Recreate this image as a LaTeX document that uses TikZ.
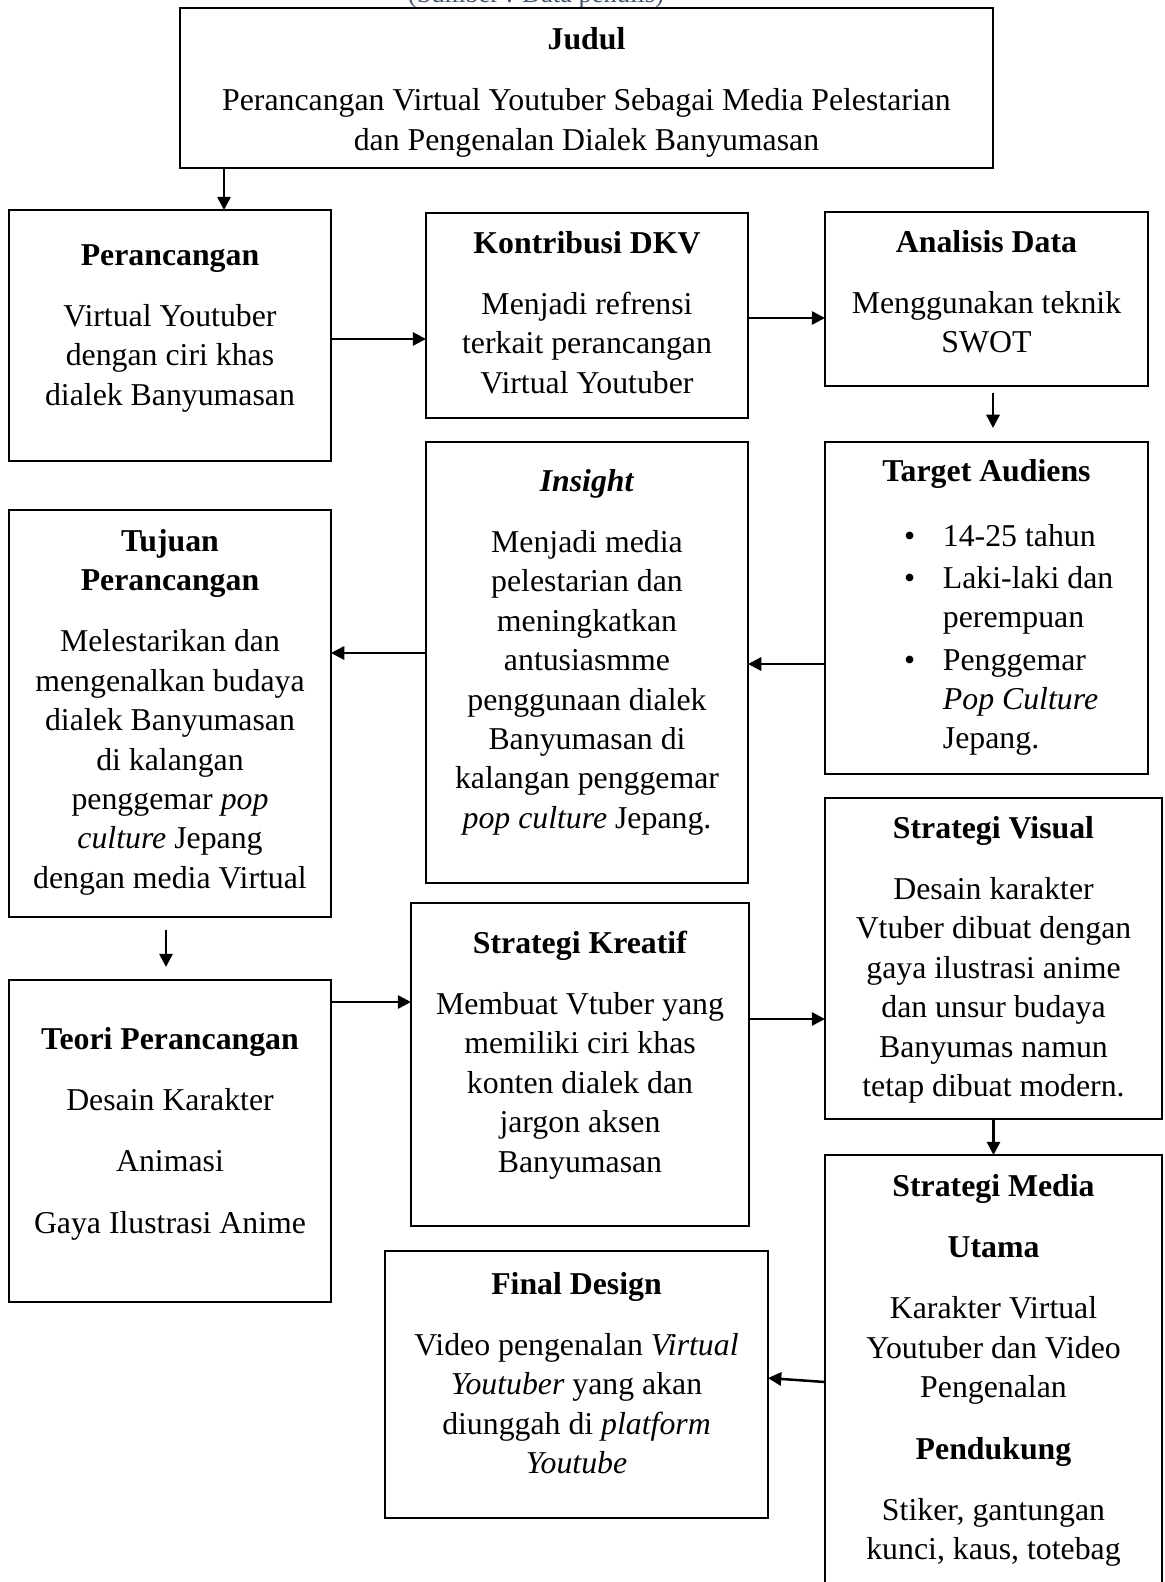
\documentclass[tikz,border=0pt]{standalone}
\usepackage{fontspec}
\setmainfont{Liberation Serif}
\usetikzlibrary{arrows.meta}
\definecolor{sumber}{HTML}{44546A}

\begin{document}
\begin{tikzpicture}[x=0.3774pt,y=-0.3774pt,
        every node/.style={font=\fontsize{12}{14.87}\selectfont,inner sep=0,outer sep=0},
        box/.style={draw,line width=1pt},
        txt/.style={align=flush center,anchor=base,text width=#1},
        txt/.default=118pt,
        arr/.style={line width=0.95pt,-{Triangle[length=5pt,width=5pt]}}]
        \useasboundingbox (0,0) rectangle (1165,1582);
        \node [font=\fontsize{10}{12}\selectfont,text=sumber,anchor=base] (sumber) at (536,2) {(Sumber : Data penulis)};
        \foreach \n/\xa/\ya/\xb/\yb in {judul/180/8/993/168,perancangan/9/210/331/461,kontribusi/426/213/748/418,%
            analisis/825/212/1148/386,target/825/442/1148/774,insight/426/442/748/883,tujuan/9/510/331/917,%
            teori/9/980/331/1302,kreatif/411/903/749/1226,visual/825/798/1162/1119,media/825/1155/1162/1640,%
            final/385/1251/768/1518} {
            \node [box,minimum width=(\xb-\xa)*0.3774pt,minimum height=(\yb-\ya)*0.3774pt] (\n) at ({(\xa+\xb)/2},{(\ya+\yb)/2}) {}; % kotak
        }
        % isi kotak
        \node [txt=300pt] (judul-txt) at (586.5,49) {\textbf{Judul}\\[8.5pt] Perancangan Virtual Youtuber Sebagai Media Pelestarian\\ dan Pengenalan Dialek Banyumasan};
        \node [txt] (perancangan-txt) at (170,265) {\textbf{Perancangan}\\[8.3pt] Virtual Youtuber\\ dengan ciri khas\\ dialek Banyumasan};
        \node [txt] (kontribusi-txt) at (587,253) {\textbf{Kontribusi DKV}\\[8.3pt] Menjadi refrensi\\ terkait perancangan\\ Virtual Youtuber};
        \node [txt] (analisis-txt) at (986.5,252) {\textbf{Analisis Data}\\[8.3pt] Menggunakan teknik\\ SWOT};
        \node [txt] (target-txt) at (986.5,481) {\textbf{Target Audiens}};
        \node [align=flush left,anchor=base west,text width=100pt] (target-list) at (904,546) {\makebox[14.7pt][l]{•}14-25 tahun\\[1.1pt]
            \makebox[14.7pt][l]{•}Laki-laki dan\\ \hspace*{14.7pt}perempuan\\[1.1pt]
            \makebox[14.7pt][l]{•}Penggemar\\ \hspace*{14.7pt}\textit{Pop Culture}\\ \hspace*{14.7pt}Jepang.};
        \node [txt] (insight-txt) at (587,491) {\textbf{\textit{Insight}}\\[8.3pt] Menjadi media\\ pelestarian dan\\ meningkatkan\\ antusiasmme\\
            penggunaan dialek\\ Banyumasan di\\ kalangan penggemar\\ \textit{pop culture} Jepang.};
        \node [txt] (tujuan-txt) at (170,551) {\textbf{Tujuan}\\ \textbf{Perancangan}\\[8.3pt] Melestarikan dan\\ mengenalkan budaya\\
            dialek Banyumasan\\ di kalangan\\ penggemar \textit{pop}\\ \textit{culture} Jepang\\ dengan media Virtual};
        \node [txt] (teori-txt) at (170,1049) {\textbf{Teori Perancangan}\\[8.3pt] Desain Karakter\\[8.3pt] Animasi\\[8.3pt] Gaya Ilustrasi Anime};
        \node [txt=124pt] (kreatif-txt) at (580,953) {\textbf{Strategi Kreatif}\\[8.3pt] Membuat Vtuber yang\\ memiliki ciri khas\\ konten dialek dan\\ jargon aksen\\ Banyumasan};
        \node [txt=124pt] (visual-txt) at (993.5,838) {\textbf{Strategi Visual}\\[8.3pt] Desain karakter\\ Vtuber dibuat dengan\\ gaya ilustrasi anime\\
            dan unsur budaya\\ Banyumas namun\\ tetap dibuat modern.};
        \node [txt=124pt] (media-txt) at (993.5,1196) {\textbf{Strategi Media}\\[8.3pt] \textbf{Utama}\\[8.3pt] Karakter Virtual\\ Youtuber dan Video\\
            Pengenalan\\[8.3pt] \textbf{Pendukung}\\[8.3pt] Stiker, gantungan\\ kunci, kaus, totebag};
        \node [txt=140pt] (final-txt) at (576.5,1294) {\textbf{Final Design}\\[8.3pt] Video pengenalan \textit{Virtual}\\ \textit{Youtuber} yang akan\\
            diunggah di \textit{platform}\\ \textit{Youtube}};
        % panah
        \draw [arr] (judul.south -| 224,0) -- (perancangan.north -| 224,0);
        \draw [arr] (perancangan.east |- 0,339) -- (kontribusi.west |- 0,339);
        \draw [arr] (kontribusi.east |- 0,318) -- (analisis.west |- 0,318);
        \draw [arr,shorten <=2.6pt,shorten >=5.3pt] (analisis.south -| 993,0) -- (target.north -| 993,0);
        \draw [arr] (target.west |- 0,664) -- (insight.east |- 0,664);
        \draw [arr] (insight.west |- 0,653) -- (tujuan.east |- 0,653);
        \draw [arr,shorten <=4.9pt,shorten >=4.9pt] (tujuan.south -| 166,0) -- (teori.north -| 166,0);
        \draw [arr] (teori.east |- 0,1002) -- (kreatif.west |- 0,1002);
        \draw [arr] (kreatif.east |- 0,1019) -- (visual.west |- 0,1019);
        \draw [arr] (visual.south) -- (media.north);
        \draw [arr] (media.west |- 0,1382) -- (final.east |- 0,1378);
    \end{tikzpicture}
\end{document}
